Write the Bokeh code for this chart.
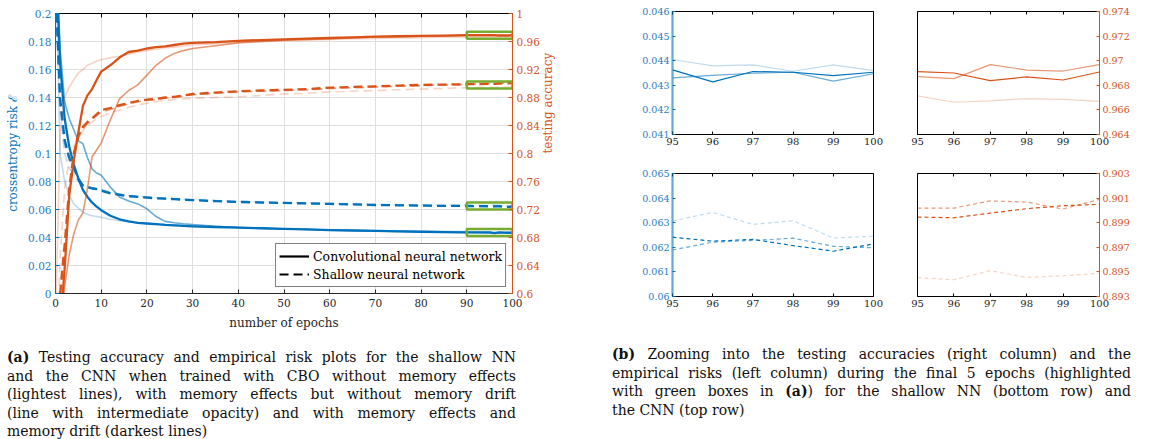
import math
from bokeh.plotting import figure
from bokeh.models import (LinearAxis, Range1d, FixedTicker, Legend, LegendItem, Div,
                          CustomLabelingPolicy)
from bokeh.layouts import row, column
from bokeh.embed import file_html
from bokeh.resources import INLINE

# ---------------- data ----------------
epochs = [0, 1, 2, 3, 4, 5, 6, 7, 8, 9, 10,
          12, 14, 16, 18, 20,
          22, 24, 26, 28, 30,
          35, 40, 45, 50, 55, 60, 65, 70, 75, 80, 85, 90,
          95, 96, 97, 98, 99, 100]

# CNN empirical risk (solid blue): no memory / memory without drift / memory with drift
cnn_risk_nomem = [0.24, 0.10, 0.080, 0.070, 0.064, 0.061, 0.058, 0.0565, 0.0555, 0.055, 0.0545,
                  0.053, 0.052, 0.0512, 0.0505, 0.050,
                  0.0496, 0.0493, 0.049, 0.0487, 0.0484,
                  0.0477, 0.0472, 0.0467, 0.0462, 0.0458, 0.0455, 0.0452, 0.045, 0.0448, 0.0446, 0.0444, 0.0442,
                  0.04405, 0.04379, 0.04383, 0.04357, 0.04383, 0.0436]
cnn_risk_mem = [0.25, 0.175, 0.137, 0.125, 0.117, 0.109, 0.107, 0.097, 0.089, 0.086, 0.0845,
                0.076, 0.069, 0.066, 0.064, 0.0605,
                0.055, 0.0515, 0.0505, 0.0498, 0.0493,
                0.048, 0.0471, 0.0466, 0.0461, 0.0457, 0.0453, 0.045, 0.0447, 0.0444, 0.0441, 0.0438, 0.0436,
                0.04330, 0.04340, 0.04349, 0.04353, 0.04317, 0.04347]
cnn_risk_drift = [0.25, 0.165, 0.125, 0.105, 0.092, 0.082, 0.074, 0.069, 0.065, 0.062, 0.0595,
                  0.0555, 0.053, 0.0515, 0.0505, 0.050,
                  0.0495, 0.049, 0.0487, 0.0483, 0.048,
                  0.0475, 0.047, 0.0466, 0.0462, 0.0458, 0.0453, 0.045, 0.0447, 0.0444, 0.0441, 0.0439, 0.0437,
                  0.04363, 0.04314, 0.04356, 0.04353, 0.04339, 0.04353]

# Shallow NN empirical risk (dashed blue)
sh_risk_nomem = [0.21, 0.13, 0.10, 0.09, 0.084, 0.08, 0.0775, 0.076, 0.0755, 0.075, 0.0742,
                 0.0722, 0.071, 0.070, 0.0694, 0.069,
                 0.0685, 0.0681, 0.0678, 0.0674, 0.0671,
                 0.0664, 0.0658, 0.0654, 0.065, 0.0647, 0.0644, 0.064, 0.0637, 0.0635, 0.0633, 0.0632, 0.0631,
                 0.06307, 0.06342, 0.06293, 0.06308, 0.06238, 0.06245]
sh_risk_mem = [0.22, 0.135, 0.107, 0.096, 0.089, 0.081, 0.0775, 0.0765, 0.0755, 0.0748, 0.074,
               0.072, 0.0708, 0.0698, 0.0692, 0.0687,
               0.0682, 0.0678, 0.0675, 0.0671, 0.0668,
               0.0661, 0.0655, 0.0651, 0.0647, 0.0644, 0.0641, 0.0637, 0.0633, 0.0631, 0.0628, 0.0626, 0.0624,
               0.06189, 0.06221, 0.06228, 0.06237, 0.06204, 0.06198]
sh_risk_drift = [0.22, 0.14, 0.11, 0.097, 0.09, 0.082, 0.077, 0.076, 0.075, 0.0745, 0.0735,
                 0.0715, 0.0705, 0.0695, 0.069, 0.0685,
                 0.068, 0.0677, 0.0674, 0.067, 0.0667,
                 0.066, 0.0654, 0.065, 0.0647, 0.0643, 0.064, 0.0636, 0.0632, 0.063, 0.0628, 0.0626, 0.0625,
                 0.06241, 0.06225, 0.06232, 0.06207, 0.06184, 0.06214]

# CNN testing accuracy (solid orange)
cnn_acc_nomem = [0.55, 0.83, 0.88, 0.895, 0.905, 0.915, 0.92, 0.926, 0.929, 0.932, 0.934,
                 0.937, 0.939, 0.942, 0.945, 0.947,
                 0.949, 0.951, 0.952, 0.9535, 0.955,
                 0.957, 0.959, 0.960, 0.961, 0.962, 0.963, 0.964, 0.9645, 0.965, 0.9655, 0.966, 0.9665,
                 0.96714, 0.96662, 0.96673, 0.96692, 0.96686, 0.9667]
cnn_acc_mem = [0.40, 0.50, 0.61, 0.655, 0.685, 0.705, 0.715, 0.75, 0.795, 0.805, 0.815,
               0.848, 0.878, 0.89, 0.898, 0.912,
               0.926, 0.936, 0.943, 0.947, 0.95,
               0.954, 0.958, 0.960, 0.962, 0.963, 0.964, 0.965, 0.9665, 0.967, 0.9675, 0.968, 0.9685,
               0.96870, 0.96854, 0.96968, 0.96924, 0.96916, 0.96968]
cnn_acc_drift = [0.40, 0.55, 0.635, 0.74, 0.79, 0.83, 0.868, 0.883, 0.892, 0.905, 0.917,
                 0.926, 0.937, 0.945, 0.947, 0.95,
                 0.952, 0.953, 0.955, 0.957, 0.958,
                 0.959, 0.961, 0.962, 0.963, 0.964, 0.965, 0.966, 0.967, 0.9675, 0.968, 0.9685, 0.969,
                 0.96911, 0.96900, 0.96838, 0.96868, 0.96843, 0.96908]

# Shallow NN testing accuracy (dashed orange)
sh_acc_nomem = [0.45, 0.65, 0.75, 0.79, 0.81, 0.825, 0.833, 0.84, 0.845, 0.85, 0.853,
                0.858, 0.862, 0.866, 0.869, 0.872,
                0.874, 0.876, 0.877, 0.878, 0.879,
                0.880, 0.881, 0.883, 0.885, 0.886, 0.888, 0.889, 0.89, 0.891, 0.892, 0.893, 0.894,
                0.89453, 0.89436, 0.8951, 0.89455, 0.89469, 0.89488]
sh_acc_mem = [0.40, 0.59, 0.66, 0.745, 0.795, 0.822, 0.835, 0.843, 0.849, 0.854, 0.859,
              0.863, 0.867, 0.871, 0.874, 0.876,
              0.877, 0.879, 0.88, 0.882, 0.884,
              0.886, 0.888, 0.889, 0.89, 0.891, 0.893, 0.894, 0.895, 0.896, 0.897, 0.898, 0.8985,
              0.90019, 0.90019, 0.90077, 0.90068, 0.90011, 0.9009]
sh_acc_drift = [0.40, 0.60, 0.67, 0.75, 0.80, 0.826, 0.838, 0.845, 0.85, 0.856, 0.862,
                0.865, 0.869, 0.872, 0.875, 0.877,
                0.878, 0.88, 0.881, 0.883, 0.885,
                0.887, 0.889, 0.89, 0.891, 0.892, 0.894, 0.895, 0.896, 0.897, 0.898, 0.8985, 0.899,
                0.89946, 0.89940, 0.89978, 0.90014, 0.90038, 0.90049]

# ticks and labels
x_ticks = [0, 10, 20, 30, 40, 50, 60, 70, 80, 90, 100]
x_tick_labels = ["0", "10", "20", "30", "40", "50", "60", "70", "80", "90", "100"]
risk_ticks = [0, 0.02, 0.04, 0.06, 0.08, 0.1, 0.12, 0.14, 0.16, 0.18, 0.2]
risk_tick_labels = ["0", "0.02", "0.04", "0.06", "0.08", "0.1", "0.12", "0.14", "0.16", "0.18", "0.2"]
acc_ticks = [0.6, 0.64, 0.68, 0.72, 0.76, 0.8, 0.84, 0.88, 0.92, 0.96, 1]
acc_tick_labels = ["0.6", "0.64", "0.68", "0.72", "0.76", "0.8", "0.84", "0.88", "0.92", "0.96", "1"]

zoom_x_ticks = [95, 96, 97, 98, 99, 100]
zoom_x_tick_labels = ["95", "96", "97", "98", "99", "100"]
cnn_risk_zoom = [0.041, 0.046]
cnn_risk_zoom_ticks = [0.041, 0.042, 0.043, 0.044, 0.045, 0.046]
cnn_risk_zoom_labels = ["0.041", "0.042", "0.043", "0.044", "0.045", "0.046"]
cnn_acc_zoom = [0.964, 0.974]
cnn_acc_zoom_ticks = [0.964, 0.966, 0.968, 0.97, 0.972, 0.974]
cnn_acc_zoom_labels = ["0.964", "0.966", "0.968", "0.97", "0.972", "0.974"]
sh_risk_zoom = [0.06, 0.065]
sh_risk_zoom_ticks = [0.06, 0.061, 0.062, 0.063, 0.064, 0.065]
sh_risk_zoom_labels = ["0.06", "0.061", "0.062", "0.063", "0.064", "0.065"]
sh_acc_zoom = [0.893, 0.903]
sh_acc_zoom_ticks = [0.893, 0.895, 0.897, 0.899, 0.901, 0.903]
sh_acc_zoom_labels = ["0.893", "0.895", "0.897", "0.899", "0.901", "0.903"]
box_epochs = [90, 100]

legend_labels = ["Convolutional neural network", "Shallow neural network"]

caption_a_lines = [
    "<b>(a)</b> Testing accuracy and empirical risk plots for the shallow NN",
    "and the CNN when trained with CBO without memory effects",
    "(lightest lines), with memory effects but without memory drift",
    "(line with intermediate opacity) and with memory effects and",
    "memory drift (darkest lines)",
]
caption_b_lines = [
    "<b>(b)</b> Zooming into the testing accuracies (right column) and the",
    "empirical risks (left column) during the final 5 epochs (highlighted",
    "with green boxes in <b>(a)</b>) for the shallow NN (bottom row) and",
    "the CNN (top row)",
]

# ---------------- styles ----------------
SERIF = "DejaVu Serif, Liberation Serif, serif"
BLUE = "#0072BD"
BLUE_TXT = "#1f7cc4"
ORANGE = "#D95319"
GREEN = "#77AC30"
DARK = "#262626"
ALPHAS = [0.25, 0.6, 1.0]
MAIN_W = [1.6, 1.6, 2.3]
HIDE_CODE = "for (let i = 0; i < indices.size; i++) { indices.unset(i) }\nreturn indices"


def style_axis(ax, ticks, labels, color, text_color, size, lw=1.0, alpha=1.0, tick_in=4, standoff=4):
    ax.ticker = FixedTicker(ticks=ticks)
    ax.major_label_overrides = dict(zip(ticks, labels))
    ax.axis_line_color = color
    ax.axis_line_width = lw
    ax.axis_line_alpha = alpha
    ax.major_tick_line_color = color
    ax.major_tick_in = tick_in
    ax.major_tick_out = 0
    ax.minor_tick_line_color = None
    ax.major_label_text_font = SERIF
    ax.major_label_text_font_size = size
    ax.major_label_text_color = text_color
    ax.major_label_standoff = standoff
    ax.axis_label_text_font = SERIF
    ax.axis_label_text_font_style = "normal"
    ax.axis_label_text_font_size = "12px"


def box_axis(ticks, color="black", tick_in=4, **kw):
    ax = LinearAxis(ticker=FixedTicker(ticks=ticks), **kw)
    ax.axis_line_color = color
    ax.major_tick_line_color = color
    ax.major_tick_in = tick_in
    ax.major_tick_out = 0
    ax.minor_tick_line_color = None
    ax.major_label_text_font_size = "6px"
    ax.major_label_standoff = 0
    ax.major_label_policy = CustomLabelingPolicy(code=HIDE_CODE)
    return ax


# ---------------- main figure ----------------
p = figure(width=580, height=335, x_range=Range1d(0, 100), y_range=Range1d(0, 0.2),
           output_backend="svg", toolbar_location=None,
           min_border_left=55, min_border_right=68, min_border_top=13, min_border_bottom=42)
p.outline_line_color = None
p.extra_y_ranges = {"acc": Range1d(0.6, 1.0)}

p.xgrid.ticker = FixedTicker(ticks=x_ticks)
p.ygrid.ticker = FixedTicker(ticks=risk_ticks)
p.grid.grid_line_color = "#dfdfdf"
p.grid.grid_line_width = 1

xa = p.xaxis[0]
style_axis(xa, x_ticks, x_tick_labels, DARK, DARK, "10.5px", standoff=5)
xa.axis_label = "number of epochs"
xa.axis_label_text_color = DARK
xa.axis_label_standoff = 6

ya = p.yaxis[0]
style_axis(ya, risk_ticks, risk_tick_labels, BLUE, BLUE_TXT, "10.5px")
ya.axis_label = "crossentropy risk \u2130"
ya.axis_label_text_color = BLUE
ya.axis_label_standoff = 5

ra = LinearAxis(y_range_name="acc", axis_label="testing accuracy")
style_axis(ra, acc_ticks, acc_tick_labels, ORANGE, ORANGE, "10.5px")
ra.axis_label_text_color = ORANGE
ra.axis_label_standoff = 5
ra.axis_label_orientation = math.pi / 2
p.add_layout(ra, "right")
p.add_layout(box_axis(x_ticks, color="black"), "above")

risk_series = [(cnn_risk_nomem, cnn_risk_mem, cnn_risk_drift, "solid"),
               (sh_risk_nomem, sh_risk_mem, sh_risk_drift, "9 5")]
acc_series = [(cnn_acc_nomem, cnn_acc_mem, cnn_acc_drift, "solid"),
              (sh_acc_nomem, sh_acc_mem, sh_acc_drift, "9 5")]

for group in risk_series:
    for vals, a, w in zip(group[:3], ALPHAS, MAIN_W):
        p.line(epochs, vals, line_color=BLUE, line_alpha=a, line_width=w,
               line_dash=group[3], line_join="round")
for group in acc_series:
    for vals, a, w in zip(group[:3], ALPHAS, MAIN_W):
        p.line(epochs, vals, line_color=ORANGE, line_alpha=a, line_width=w,
               line_dash=group[3], line_join="round", y_range_name="acc")

# green boxes marking the zoomed regions
p.quad(left=[box_epochs[0]] * 2, right=[box_epochs[1]] * 2,
       bottom=[cnn_risk_zoom[0], sh_risk_zoom[0]], top=[cnn_risk_zoom[1], sh_risk_zoom[1]],
       fill_color=None, line_color=GREEN, line_width=2.5)
p.quad(left=[box_epochs[0]] * 2, right=[box_epochs[1]] * 2,
       bottom=[cnn_acc_zoom[0], sh_acc_zoom[0]], top=[cnn_acc_zoom[1], sh_acc_zoom[1]],
       fill_color=None, line_color=GREEN, line_width=2.5, y_range_name="acc")

# legend key lines (a single NaN point: nothing drawn in the plot area)
nan = float("nan")
r_solid = p.line(x=[nan], y=[nan], line_color="black", line_width=2.2)
r_dash = p.line(x=[nan], y=[nan], line_color="black", line_width=2.2, line_dash="9 5")
legend = Legend(items=[LegendItem(label=legend_labels[0], renderers=[r_solid]),
                       LegendItem(label=legend_labels[1], renderers=[r_dash])],
                location="bottom_right", margin=6, padding=3, spacing=0,
                glyph_width=30, glyph_height=18, label_height=18, label_standoff=4,
                label_text_font=SERIF, label_text_font_size="12.5px", label_text_color="black",
                border_line_color="black", border_line_width=1, background_fill_alpha=1.0)
p.add_layout(legend)

# ---------------- zoom figures ----------------
zoom_epochs = epochs[-6:]


def zoom_fig(width, height, bl, br, bt, bb, yr, yticks, ylabels, side, color, txt_color, axis_w, axis_a, series, dash):
    f = figure(width=width, height=height, x_range=Range1d(95, 100), y_range=Range1d(*yr),
               output_backend="svg", toolbar_location=None, y_axis_location=side,
               min_border_left=bl, min_border_right=br, min_border_top=bt, min_border_bottom=bb)
    f.outline_line_color = None
    f.grid.visible = False
    style_axis(f.xaxis[0], zoom_x_ticks, zoom_x_tick_labels, "black", DARK, "10px", tick_in=3, standoff=3)
    style_axis(f.yaxis[0], yticks, ylabels, color, txt_color, "9.5px", lw=axis_w, alpha=axis_a, tick_in=3, standoff=3)
    f.add_layout(box_axis(zoom_x_ticks, tick_in=3), "above")
    f.add_layout(box_axis([], tick_in=0), "right" if side == "left" else "left")
    for vals, a in zip(series, ALPHAS):
        f.line(zoom_epochs, vals[-6:], line_color=color, line_alpha=a, line_width=1.2,
               line_dash=dash, line_join="round")
    return f


tl = zoom_fig(315, 155, 92, 22, 11, 21, cnn_risk_zoom, cnn_risk_zoom_ticks, cnn_risk_zoom_labels,
              "left", BLUE, BLUE_TXT, 2.2, 0.6, [cnn_risk_nomem, cnn_risk_mem, cnn_risk_drift], "solid")
tr = zoom_fig(272, 155, 22, 68, 11, 21, cnn_acc_zoom, cnn_acc_zoom_ticks, cnn_acc_zoom_labels,
              "right", ORANGE, ORANGE, 1.0, 1.0, [cnn_acc_nomem, cnn_acc_mem, cnn_acc_drift], "solid")
bl_ = zoom_fig(315, 160, 92, 22, 18, 19, sh_risk_zoom, sh_risk_zoom_ticks, sh_risk_zoom_labels,
               "left", BLUE, BLUE_TXT, 2.2, 0.6, [sh_risk_nomem, sh_risk_mem, sh_risk_drift], "4 3")
br_ = zoom_fig(272, 160, 22, 68, 18, 19, sh_acc_zoom, sh_acc_zoom_ticks, sh_acc_zoom_labels,
               "right", ORANGE, ORANGE, 1.0, 1.0, [sh_acc_nomem, sh_acc_mem, sh_acc_drift], "4 3")


# ---------------- captions ----------------
def caption_html(lines, pad_top, pad_left, width):
    out = []
    for i, ln in enumerate(lines):
        if i == len(lines) - 1:
            out.append(f'<div style="text-align:left;white-space:nowrap;">{ln}</div>')
        else:
            out.append(f'<div style="text-align:justify;text-align-last:justify;white-space:nowrap;">{ln}</div>')
    return ('<div style="font-family:\'DejaVu Serif\',\'Liberation Serif\',serif;font-size:14px;'
            f'line-height:18.5px;color:#111;padding:{pad_top}px 0 0 {pad_left}px;width:{width}px;">'
            + "".join(out) + "</div>")


cap_a = Div(text=caption_html(caption_a_lines, 13, 7, 516), width=580, height=104, margin=0)
cap_b = Div(text=caption_html(caption_b_lines, 30, 32, 551), width=587, height=124, margin=0)

layout = row(column(p, cap_a, spacing=0),
             column(row(tl, tr, spacing=0), row(bl_, br_, spacing=0), cap_b, spacing=0),
             spacing=0)

open("out.html", "w").write(file_html(layout, INLINE))
